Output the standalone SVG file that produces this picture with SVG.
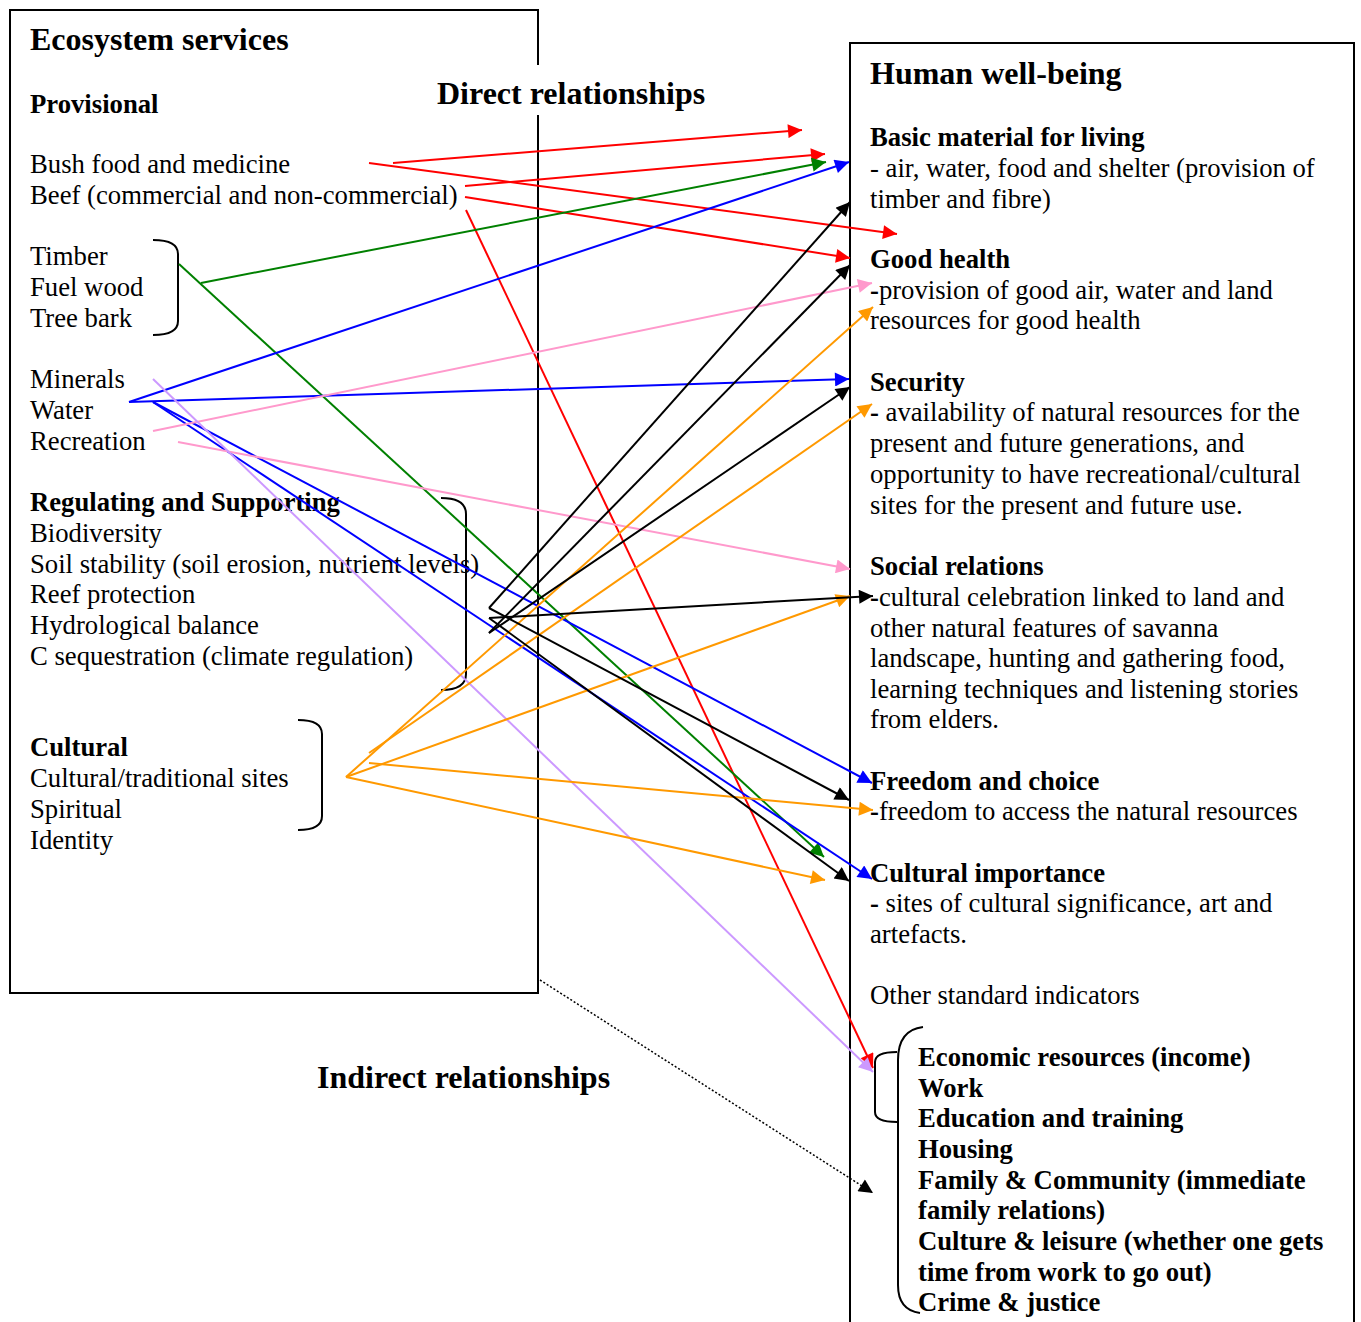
<svg xmlns="http://www.w3.org/2000/svg" width="1361" height="1322" viewBox="0 0 1361 1322">
<style>
text{font-family:"Liberation Serif","Times New Roman",serif;font-size:26.7px;fill:#000}
.b{font-weight:bold}
.t{font-weight:bold;font-size:32px}
.box{fill:none;stroke:#000;stroke-width:2}
.br{fill:none;stroke:#000;stroke-width:2}
.c{fill:none;stroke-width:2}
</style>
<defs>
<marker id="ar" viewBox="0 0 10 10" refX="10" refY="5" markerUnits="userSpaceOnUse" markerWidth="20" markerHeight="14" orient="auto"><path d="M0,0 L10,5 L0,10 z" fill="#f00"/></marker>
<marker id="ag" viewBox="0 0 10 10" refX="10" refY="5" markerUnits="userSpaceOnUse" markerWidth="20" markerHeight="14" orient="auto"><path d="M0,0 L10,5 L0,10 z" fill="#008000"/></marker>
<marker id="ab" viewBox="0 0 10 10" refX="10" refY="5" markerUnits="userSpaceOnUse" markerWidth="20" markerHeight="14" orient="auto"><path d="M0,0 L10,5 L0,10 z" fill="#00f"/></marker>
<marker id="ap" viewBox="0 0 10 10" refX="10" refY="5" markerUnits="userSpaceOnUse" markerWidth="20" markerHeight="14" orient="auto"><path d="M0,0 L10,5 L0,10 z" fill="#ff99cc"/></marker>
<marker id="av" viewBox="0 0 10 10" refX="10" refY="5" markerUnits="userSpaceOnUse" markerWidth="20" markerHeight="14" orient="auto"><path d="M0,0 L10,5 L0,10 z" fill="#cc99ff"/></marker>
<marker id="ao" viewBox="0 0 10 10" refX="10" refY="5" markerUnits="userSpaceOnUse" markerWidth="20" markerHeight="14" orient="auto"><path d="M0,0 L10,5 L0,10 z" fill="#f90"/></marker>
<marker id="ak" viewBox="0 0 10 10" refX="10" refY="5" markerUnits="userSpaceOnUse" markerWidth="20" markerHeight="14" orient="auto"><path d="M0,0 L10,5 L0,10 z" fill="#000"/></marker>
<marker id="ad" viewBox="0 0 10 10" refX="10" refY="5" markerUnits="userSpaceOnUse" markerWidth="16" markerHeight="14" orient="auto"><path d="M0,0 L10,5 L0,10 z" fill="#000"/></marker>
</defs>
<rect width="1361" height="1322" fill="#fff"/>

<g id="ecosystem-services">
<rect class="box" x="10" y="10" width="528" height="983"/>
<text class="t" x="30" y="50">Ecosystem services</text>
<text class="b" x="30" y="113">Provisional</text>
<text x="30" y="173">Bush food and medicine</text>
<text x="30" y="204">Beef (commercial and non-commercial)</text>
<text x="30" y="265">Timber</text>
<text x="30" y="296">Fuel wood</text>
<text x="30" y="327">Tree bark</text>
<text x="30" y="388">Minerals</text>
<text x="30" y="419">Water</text>
<text x="30" y="450">Recreation</text>
<text class="b" x="30" y="511">Regulating and Supporting</text>
<text x="30" y="542">Biodiversity</text>
<text x="30" y="573">Soil stability (soil erosion, nutrient levels)</text>
<text x="30" y="603">Reef protection</text>
<text x="30" y="634">Hydrological balance</text>
<text x="30" y="665">C sequestration (climate regulation)</text>
<text class="b" x="30" y="756">Cultural</text>
<text x="30" y="787">Cultural/traditional sites</text>
<text x="30" y="818">Spiritual</text>
<text x="30" y="849">Identity</text>
<path class="br" d="M153,240 Q178,240 178,254 V321 Q178,335 153,335"/>
<path class="br" d="M441,498 Q466,498 466,514 V674 Q466,690 441,690"/>
<path class="br" d="M298,720 Q322,720 322,734 V816 Q322,830 298,830"/>
</g>

<g id="direct-label">
<rect x="428" y="65" width="290" height="50" fill="#fff"/>
<text class="t" x="437" y="104">Direct relationships</text>
</g>
<g id="indirect-label">
<text class="t" x="317" y="1088">Indirect relationships</text>
</g>

<g id="human-well-being">
<rect class="box" x="850" y="43" width="504" height="1300"/>
<text class="t" x="870" y="84">Human well-being</text>
<text class="b" x="870" y="146">Basic material for living</text>
<text x="870" y="177">- air, water, food and shelter (provision of</text>
<text x="870" y="208">timber and fibre)</text>
<text class="b" x="870" y="268">Good health</text>
<text x="870" y="299"><tspan class="b">-</tspan>provision of good air, water and land</text>
<text x="870" y="329">resources for good health</text>
<text class="b" x="870" y="391">Security</text>
<text x="870" y="421"><tspan class="b">-</tspan> availability of natural resources for the</text>
<text x="870" y="452">present and future generations, and</text>
<text x="870" y="483">opportunity to have recreational/cultural</text>
<text x="870" y="514">sites for the present and future use.</text>
<text class="b" x="870" y="575">Social relations</text>
<text x="870" y="606"><tspan class="b">-</tspan>cultural celebration linked to land and</text>
<text x="870" y="637">other natural features of savanna</text>
<text x="870" y="667">landscape, hunting and gathering food,</text>
<text x="870" y="698">learning techniques and listening stories</text>
<text x="870" y="728">from elders.</text>
<text class="b" x="870" y="790">Freedom and choice</text>
<text x="870" y="820"><tspan class="b">-</tspan>freedom to access the natural resources</text>
<text class="b" x="870" y="882">Cultural importance</text>
<text x="870" y="912"><tspan class="b">-</tspan> sites of cultural significance, art and</text>
<text x="870" y="943">artefacts.</text>
<text x="870" y="1004">Other standard indicators</text>
<text class="b" x="918" y="1066">Economic resources (income)</text>
<text class="b" x="918" y="1097">Work</text>
<text class="b" x="918" y="1127">Education and training</text>
<text class="b" x="918" y="1158">Housing</text>
<text class="b" x="918" y="1189">Family &amp; Community (immediate</text>
<text class="b" x="918" y="1219">family relations)</text>
<text class="b" x="918" y="1250">Culture &amp; leisure (whether one gets</text>
<text class="b" x="918" y="1281">time from work to go out)</text>
<text class="b" x="918" y="1311">Crime &amp; justice</text>
<path class="br" d="M923,1027 Q898,1030 898,1060 V1285 Q898,1310 920,1313"/>
<path class="br" d="M897,1052 Q875,1052 875,1062 V1112 Q875,1122 897,1122"/>
</g>

<g id="connectors">
<line class="c" stroke="#f00" x1="393" y1="163" x2="802" y2="130" marker-end="url(#ar)"/>
<line class="c" stroke="#f00" x1="465" y1="186" x2="825" y2="154" marker-end="url(#ar)"/>
<line class="c" stroke="#f00" x1="369" y1="163" x2="897" y2="234" marker-end="url(#ar)"/>
<line class="c" stroke="#f00" x1="465" y1="197" x2="850" y2="258" marker-end="url(#ar)"/>
<line class="c" stroke="#f00" x1="466" y1="210" x2="873" y2="1068" marker-end="url(#ar)"/>
<line class="c" stroke="#008000" x1="201" y1="283" x2="826" y2="162" marker-end="url(#ag)"/>
<line class="c" stroke="#008000" x1="179" y1="264" x2="824" y2="857" marker-end="url(#ag)"/>
<line class="c" stroke="#00f" x1="129" y1="402" x2="849" y2="162" marker-end="url(#ab)"/>
<line class="c" stroke="#00f" x1="129" y1="402" x2="849" y2="379" marker-end="url(#ab)"/>
<line class="c" stroke="#00f" x1="153" y1="402" x2="872" y2="783" marker-end="url(#ab)"/>
<line class="c" stroke="#00f" x1="153" y1="402" x2="872" y2="879" marker-end="url(#ab)"/>
<line class="c" stroke="#ff99cc" x1="153" y1="431" x2="872" y2="283" marker-end="url(#ap)"/>
<line class="c" stroke="#ff99cc" x1="178" y1="442" x2="850" y2="569" marker-end="url(#ap)"/>
<line class="c" stroke="#cc99ff" x1="153" y1="379" x2="873" y2="1072" marker-end="url(#av)"/>
<line class="c" stroke="#f90" x1="346" y1="777" x2="873" y2="307" marker-end="url(#ao)"/>
<line class="c" stroke="#f90" x1="369" y1="753" x2="872" y2="404" marker-end="url(#ao)"/>
<line class="c" stroke="#f90" x1="346" y1="777" x2="850" y2="596" marker-end="url(#ao)"/>
<line class="c" stroke="#f90" x1="369" y1="763" x2="873" y2="810" marker-end="url(#ao)"/>
<line class="c" stroke="#f90" x1="346" y1="777" x2="825" y2="880" marker-end="url(#ao)"/>
<line class="c" stroke="#000" x1="489" y1="608" x2="850" y2="202" marker-end="url(#ak)"/>
<line class="c" stroke="#000" x1="489" y1="633" x2="850" y2="265" marker-end="url(#ak)"/>
<line class="c" stroke="#000" x1="489" y1="633" x2="850" y2="387" marker-end="url(#ak)"/>
<line class="c" stroke="#000" x1="489" y1="618" x2="873" y2="596" marker-end="url(#ak)"/>
<line class="c" stroke="#000" x1="489" y1="608" x2="849" y2="800" marker-end="url(#ak)"/>
<line class="c" stroke="#000" x1="489" y1="618" x2="849" y2="881" marker-end="url(#ak)"/>
<line fill="none" stroke="#000" stroke-width="1.5" stroke-dasharray="2,2" x1="540" y1="980" x2="873" y2="1193" marker-end="url(#ad)"/>
</g>
</svg>
